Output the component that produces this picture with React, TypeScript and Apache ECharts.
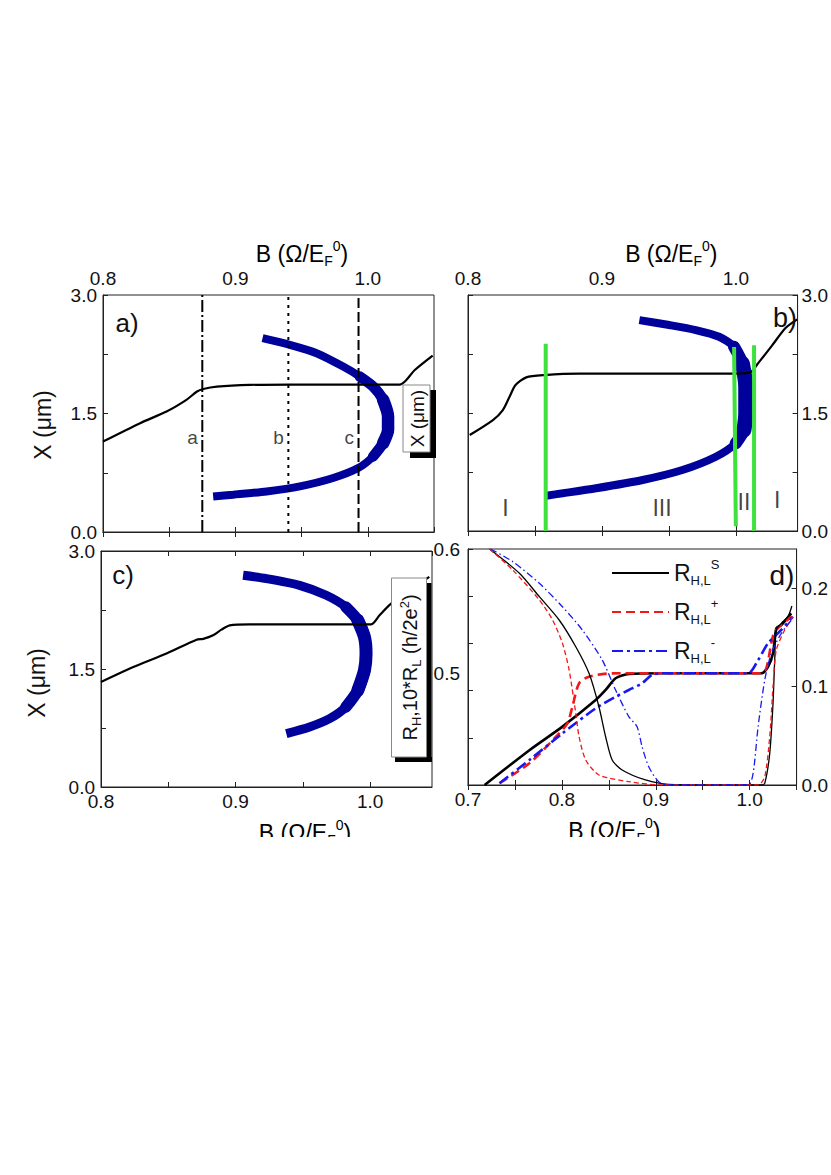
import React, { useEffect, useRef } from 'react';
import * as echarts from 'echarts';

const FONT = '"Liberation Sans", Arial, Helvetica, sans-serif';

// ---------- Panel a) ----------
const aEdgeB = [0.8, 0.828, 0.848, 0.863, 0.871, 0.8757, 0.886, 0.911, 0.941, 1.024, 1.028, 1.0355, 1.049];
const aEdgeX = [1.145, 1.378, 1.525, 1.673, 1.778, 1.81, 1.84, 1.862, 1.866, 1.866, 1.905, 2.05, 2.233];
const aBandB = [0.9205, 0.9411, 0.9613, 0.9814, 0.994, 1.004, 1.0116, 1.0153, 1.0153, 1.0116, 1.004, 0.9927, 0.9738, 0.9487, 0.9235, 0.8983, 0.8832];
const aBandX = [2.453, 2.368, 2.263, 2.094, 1.967, 1.841, 1.673, 1.462, 1.293, 1.125, 0.956, 0.809, 0.683, 0.577, 0.513, 0.472, 0.45];
const markerB = [0.875, 0.94, 0.993];
const markerNames = ['a', 'b', 'c'];
const markerLabelX = [1.2, 1.2, 1.2];

// ---------- Panel b) ----------
const bEdgeB = [0.8013, 0.8186, 0.826, 0.831, 0.8355, 0.8435, 0.857, 0.883, 0.9204, 0.9998, 1.011, 1.016, 1.027, 1.037, 1.0457];
const bEdgeX = [1.22, 1.41, 1.537, 1.706, 1.855, 1.953, 1.982, 2.0, 2.0, 2.0, 2.02, 2.12, 2.36, 2.58, 2.69];
const bBandB = [0.9279, 0.9502, 0.97, 0.9874, 0.9986, 1.0048, 1.0073, 1.0073, 1.006, 0.9998, 0.985, 0.96, 0.9303, 0.8956, 0.8707, 0.8584];
const bBandX = [2.681, 2.618, 2.554, 2.469, 2.342, 2.131, 1.834, 1.496, 1.283, 1.114, 0.944, 0.775, 0.648, 0.543, 0.479, 0.449];
const greenTopB = [0.858, 0.9986, 1.0135];
const greenBottomB = [0.858, 0.9999, 1.0135];
const greenTopX = [2.38, 2.34, 2.36];
const greenBottomX = [0.0, 0.06, 0.0];
const regionNames = ['I', 'III', 'II', 'I'];
const regionB = [0.828, 0.9448, 1.006, 1.0308];
const regionX = [0.29, 0.29, 0.37, 0.39];

// ---------- Panel c) ----------
const cEdgeB = [0.8, 0.824, 0.8487, 0.871, 0.876, 0.8833, 0.8895, 0.8957, 0.9105, 1.0008, 1.007, 1.0156, 1.044];
const cEdgeX = [1.335, 1.525, 1.696, 1.873, 1.883, 1.928, 2.0, 2.055, 2.068, 2.068, 2.183, 2.331, 2.67];
const cBandB = [0.9056, 0.923, 0.9476, 0.9674, 0.982, 0.9909, 0.9958, 0.997, 0.9958, 0.9909, 0.982, 0.9699, 0.955, 0.9377];
const cBandX = [2.691, 2.649, 2.564, 2.437, 2.288, 2.119, 1.907, 1.696, 1.483, 1.229, 1.017, 0.869, 0.763, 0.678];

// ---------- Panel d) ----------
// Hall resistance (left axis)
const dHsB = [0.7177, 0.7654, 0.8006, 0.836, 0.8466, 0.8572, 0.8713, 0.9066, 1.0125, 1.0196, 1.0249, 1.0284, 1.0337, 1.0443];
const dHsV = [0.41, 0.438, 0.457, 0.4784, 0.4865, 0.4959, 0.4994, 0.5, 0.5, 0.5052, 0.516, 0.5362, 0.5388, 0.5482];
const dHpB = [0.7336, 0.7654, 0.7971, 0.806, 0.8112, 0.8183, 0.8289, 0.8536, 1.0125, 1.0178, 1.0231, 1.0267, 1.0443];
const dHpV = [0.4114, 0.4275, 0.4516, 0.4597, 0.473, 0.4919, 0.4972, 0.4999, 0.5, 0.504, 0.5241, 0.5334, 0.5455];
const dHmB = [0.7336, 0.7654, 0.8006, 0.836, 0.8572, 0.8713, 0.8854, 0.896, 0.9066, 0.9984, 1.009, 1.0196, 1.0337, 1.046];
const dHmV = [0.4114, 0.4301, 0.4516, 0.4717, 0.4811, 0.4865, 0.4919, 0.4986, 0.5, 0.5, 0.5106, 0.5241, 0.5348, 0.5455];
// Longitudinal resistance x10 (right axis)
const dLsB = [0.723, 0.7548, 0.776, 0.7971, 0.8148, 0.8289, 0.8395, 0.8466, 0.8536, 0.8642, 0.889, 0.9137, 1.0125, 1.0161, 1.0214, 1.0249, 1.0267, 1.0284, 1.0337, 1.0408, 1.045];
const dLsV = [0.24, 0.2153, 0.1915, 0.1678, 0.1406, 0.1136, 0.0796, 0.0491, 0.0254, 0.0153, 0.0051, 0.0007, 0, 0.0017, 0.0322, 0.083, 0.1271, 0.1576, 0.1644, 0.1712, 0.182];
const dLpB = [0.723, 0.7477, 0.776, 0.7901, 0.8006, 0.8077, 0.8148, 0.8183, 0.8254, 0.8395, 0.8713, 0.9066, 1.009, 1.0161, 1.0214, 1.0249, 1.0284, 1.0373, 1.046];
const dLpV = [0.24, 0.2186, 0.1881, 0.1678, 0.1441, 0.117, 0.0729, 0.0491, 0.0254, 0.0102, 0.0034, 0, 0, 0.0085, 0.0491, 0.1, 0.1373, 0.1576, 0.1712];
const dLmB = [0.7241, 0.7477, 0.776, 0.8006, 0.8218, 0.843, 0.8572, 0.8713, 0.8801, 0.8854, 0.8925, 0.9031, 0.9137, 0.9984, 1.0037, 1.009, 1.0161, 1.0231, 1.0337, 1.046];
const dLmV = [0.24, 0.2271, 0.2051, 0.1813, 0.1576, 0.1271, 0.0966, 0.0695, 0.0593, 0.039, 0.0186, 0.0034, 0, 0, 0.0119, 0.0593, 0.1068, 0.1339, 0.1542, 0.1695];

// ---------- tick labels ----------
const bTickLabels = [0.8, 0.9, 1.0];
const dBTickLabels = [0.7, 0.8, 0.9, 1.0];
const xPosTickLabels = [0, 1.5, 3.0];
const dLeftTickLabels = [0.5, 0.6];
const dRightTickLabels = [0, 0.1, 0.2];

const legendNames = ['RS', 'RP', 'RM'];
const legendTexts = ['R{sub|H,L}{sup|S}', 'R{sub|H,L}{sup|+}', 'R{sub|H,L}{sup|-}'];

const zip = (xs: number[], ys: number[]) => xs.map((x, i) => [x, ys[i]]);
const inList = (list: number[]) => (v: number) =>
  list.some((t) => Math.abs(t - v) < 1e-6) ? v.toFixed(1) : '';

const BLUE_BAND = '#00009a';
const GREEN = '#3de23d';
const RED = '#f01818';
const BLUE = '#1818f0';
const TICK_FS = 19;
const NAME_FS = 23;

const richName = {
  sub: { fontSize: 14, fontFamily: FONT, color: '#000', padding: [15, 0, 0, 0] },
  sup: { fontSize: 14, fontFamily: FONT, color: '#000', padding: [0, 0, 15, 0] },
};

function line(
  name: string | undefined,
  data: number[][],
  xi: number,
  yi: number,
  color: string,
  width: number,
  type: any = 'solid',
  smooth: number | boolean = 0.25,
  cap: string = 'butt'
) {
  return {
    type: 'line',
    name,
    data,
    xAxisIndex: xi,
    yAxisIndex: yi,
    symbol: 'none',
    smooth,
    silent: true,
    lineStyle: { color, width, type, cap },
    itemStyle: { color },
    z: 3,
  };
}

function xAx(grid: number, pos: string, min: number, max: number, labels: number[] | null, name?: string, nameGap = 22, pad: number[] = [0, 0, 0, 0], margin = 6) {
  return {
    type: 'value',
    gridIndex: grid,
    position: pos,
    min,
    max,
    interval: 0.05,
    axisLine: { show: true, lineStyle: { color: '#222', width: 1 } },
    axisTick: { show: true, inside: true, length: 5, lineStyle: { color: '#222' } },
    splitLine: { show: false },
    axisLabel: labels
      ? { show: true, formatter: inList(labels), fontSize: TICK_FS, fontFamily: FONT, color: '#111', margin, showMaxLabel: false }
      : { show: false },
    name: name || '',
    nameLocation: 'middle',
    nameGap,
    nameTextStyle: { fontSize: NAME_FS, fontFamily: FONT, color: '#000', padding: pad, rich: richName },
  };
}

function yAx(grid: number, pos: string, min: number, max: number, interval: number | undefined, labels: number[] | null, opts: any = {}) {
  return {
    type: 'value',
    gridIndex: grid,
    position: pos,
    min,
    max,
    interval,
    axisLine: { show: true, lineStyle: { color: '#222', width: 1 } },
    axisTick: { show: true, inside: true, length: 5, lineStyle: { color: '#222' } },
    splitLine: { show: false },
    axisLabel: labels
      ? { show: true, formatter: inList(labels), fontSize: TICK_FS, fontFamily: FONT, color: '#111', margin: 6 }
      : { show: false },
    ...opts,
  };
}

function App() {
  const ref = useRef<HTMLDivElement>(null);
  useEffect(() => {
    if (!ref.current) return;
    const chart = echarts.init(ref.current, undefined, { renderer: 'svg' });

    const grids = [
      { left: 103, top: 295, width: 331, height: 237 },
      { left: 468, top: 295, width: 330, height: 236 },
      { left: 101, top: 551, width: 331, height: 236 },
      { left: 468, top: 549, width: 330, height: 236 },
    ].map((g) => ({ ...g, show: true, borderColor: '#222', borderWidth: 1, backgroundColor: 'transparent' }));

    const xAxis = [
      xAx(0, 'top', 0.8, 1.05, bTickLabels, 'B (Ω/E{sub|F}{sup|0})', 20, [0, 0, 0, 67], 7), // 0
      xAx(0, 'bottom', 0.8, 1.05, null), // 1
      xAx(1, 'top', 0.8, 1.046, bTickLabels, 'B (Ω/E{sub|F}{sup|0})', 20, [0, 0, 0, 77], 7), // 2
      xAx(1, 'bottom', 0.8, 1.046, null), // 3
      xAx(2, 'bottom', 0.8, 1.046, bTickLabels, 'B (Ω/E{sub|F}{sup|0})', 31, [0, 0, 0, 77], 5), // 4
      xAx(2, 'top', 0.8, 1.046, null), // 5
      xAx(3, 'bottom', 0.7, 1.05, dBTickLabels, 'B (Ω/E{sub|F}{sup|0})', 31, [0, 36, 0, 0], 5), // 6
      xAx(3, 'top', 0.7, 1.05, null), // 7
    ];

    const yAxis = [
      yAx(0, 'left', 0, 3, 0.75, xPosTickLabels), // 0 a
      yAx(1, 'right', 0, 3, 0.75, xPosTickLabels, { axisLabel: { show: true, formatter: inList(xPosTickLabels), fontSize: TICK_FS, fontFamily: FONT, color: '#111', margin: 4 } }), // 1 b right
      yAx(1, 'left', 0, 3, 0.75, null), // 2 b left ticks
      yAx(2, 'left', 0, 3, 0.75, xPosTickLabels), // 3 c
      yAx(3, 'left', 0.41, 0.6, 0.01, dLeftTickLabels, { axisTick: { show: false }, axisLabel: { show: true, formatter: inList(dLeftTickLabels), fontSize: TICK_FS, fontFamily: FONT, color: '#111', margin: 8 } }), // 4 d left labels
      yAx(3, 'left', 0, 5, 1, null), // 5 d left ticks
      yAx(3, 'right', 0, 0.24, 0.1, dRightTickLabels, { axisLabel: { show: true, formatter: inList(dRightTickLabels), fontSize: TICK_FS, fontFamily: FONT, color: '#111', margin: 5, showMaxLabel: false } }), // 6 d right
    ];

    const series: any[] = [];

    // Panel a
    series.push(line(undefined, zip(aBandB, aBandX), 0, 0, BLUE_BAND, 8));
    series.push(line(undefined, zip(aBandB.slice(4, 11), aBandX.slice(4, 11)), 0, 0, BLUE_BAND, 10.5, 'solid', 0.25, 'round'));
    series.push(line(undefined, zip(aBandB.slice(6, 10), aBandX.slice(6, 10)), 0, 0, BLUE_BAND, 12.5, 'solid', 0.25, 'round'));
    series.push(line(undefined, zip(aEdgeB, aEdgeX), 0, 0, '#000', 2.2));
    const markerTypes: any[] = [[12, 3, 2, 3], [3, 5], [10, 4]];
    markerB.forEach((b, i) => {
      series.push(line(undefined, [[b, 0], [b, 3]], 0, 0, '#000', 2, markerTypes[i], false));
    });
    series.push({
      type: 'scatter',
      xAxisIndex: 0,
      yAxisIndex: 0,
      data: zip(markerB, markerLabelX),
      symbolSize: 1,
      itemStyle: { color: 'rgba(0,0,0,0)' },
      silent: true,
      label: { show: true, position: 'left', distance: 4, formatter: (p: any) => markerNames[p.dataIndex], fontSize: 19, fontFamily: FONT, color: '#111' },
    });

    // Panel b
    series.push(line(undefined, zip(bBandB, bBandX), 2, 1, BLUE_BAND, 8));
    series.push(line(undefined, zip(bBandB.slice(4, 10), bBandX.slice(4, 10)), 2, 1, BLUE_BAND, 12, 'solid', 0.25, 'round'));
    series.push(line(undefined, zip(bBandB.slice(5, 9), bBandX.slice(5, 9)), 2, 1, BLUE_BAND, 15, 'solid', 0.25, 'round'));
    series.push(line(undefined, zip(bEdgeB, bEdgeX), 2, 1, '#000', 2.2));
    greenTopB.forEach((b, i) => {
      series.push({ ...line(undefined, [[b, greenTopX[i]], [greenBottomB[i], greenBottomX[i]]], 2, 1, GREEN, 4, 'solid', false), z: 4 });
    });
    series.push({
      type: 'scatter',
      xAxisIndex: 2,
      yAxisIndex: 1,
      data: zip(regionB, regionX),
      symbolSize: 1,
      itemStyle: { color: 'rgba(0,0,0,0)' },
      silent: true,
      label: { show: true, position: 'inside', formatter: (p: any) => regionNames[p.dataIndex], fontSize: 23, fontFamily: FONT, color: '#111' },
    });

    // Panel c
    series.push(line(undefined, zip(cBandB, cBandX), 4, 3, BLUE_BAND, 9));
    series.push(line(undefined, zip(cBandB.slice(4, 11), cBandX.slice(4, 11)), 4, 3, BLUE_BAND, 11.5, 'solid', 0.25, 'round'));
    series.push(line(undefined, zip(cBandB.slice(5, 10), cBandX.slice(5, 10)), 4, 3, BLUE_BAND, 13, 'solid', 0.25, 'round'));
    series.push(line(undefined, zip(cEdgeB, cEdgeX), 4, 3, '#000', 2.2));

    // Panel d
    series.push(line('RS', zip(dHsB, dHsV), 6, 4, '#000', 2.6, 'solid'));
    series.push(line('RP', zip(dHpB, dHpV), 6, 4, RED, 2.6, [9, 5]));
    series.push(line('RM', zip(dHmB, dHmV), 6, 4, BLUE, 2.6, [11, 4, 3, 4]));
    series.push(line('RS_L', zip(dLsB, dLsV), 6, 6, '#000', 1.3, 'solid'));
    series.push(line('RP_L', zip(dLpB, dLpV), 6, 6, RED, 1.3, [5, 3]));
    series.push(line('RM_L', zip(dLmB, dLmV), 6, 6, BLUE, 1.3, [7, 3, 1.5, 3]));

    const txt = (text: string, x: number, y: number, size: number, rotation = 0) => ({
      type: 'text',
      x,
      y,
      z: 50,
      rotation,
      style: { text, fontSize: size, fontFamily: FONT, fill: '#111', align: 'center', verticalAlign: 'middle' },
    });

    const graphic: any[] = [
      txt('a)', 127, 323, 26),
      txt('b)', 785, 318, 27),
      txt('c)', 123, 575, 26),
      txt('d)', 782, 575, 28),
      // y-axis titles of a) and c)
      txt('X (μm)', 43, 425, NAME_FS, Math.PI / 2),
      txt('X (μm)', 37, 683, NAME_FS, Math.PI / 2),
      // legend-box artefact in a)
      { type: 'rect', z: 40, shape: { x: 410, y: 452, width: 26, height: 6 }, style: { fill: '#000' } },
      { type: 'rect', z: 40, shape: { x: 430, y: 390, width: 6, height: 68 }, style: { fill: '#000' } },
      { type: 'rect', z: 41, shape: { x: 403, y: 385, width: 27, height: 67 }, style: { fill: '#fff', stroke: '#888', lineWidth: 1 } },
      txt('X (μm)', 417, 418.5, 19, Math.PI / 2),
      // legend-box artefact in c)
      { type: 'rect', z: 40, shape: { x: 395, y: 757, width: 37, height: 5 }, style: { fill: '#000' } },
      { type: 'rect', z: 40, shape: { x: 426.5, y: 583, width: 5, height: 179 }, style: { fill: '#000' } },
      { type: 'rect', z: 41, shape: { x: 391.5, y: 578, width: 35, height: 179 }, style: { fill: '#fff', stroke: '#888', lineWidth: 1 } },
      {
        type: 'text', z: 52, x: 410, y: 667.5, rotation: Math.PI / 2,
        style: {
          text: 'R{sub|H},10*R{sub|L} (h/2e{sup|2})',
          fontSize: 20, fontFamily: FONT, fill: '#111', align: 'center', verticalAlign: 'middle',
          rich: {
            sub: { fontSize: 13, fontFamily: FONT, fill: '#111', padding: [12, 0, 0, 0] },
            sup: { fontSize: 13, fontFamily: FONT, fill: '#111', padding: [0, 0, 12, 0] },
          },
        },
      },
      // the page is cropped just below the bottom axis titles
      { type: 'rect', z: 100, shape: { x: 0, y: 837, width: 831, height: 338 }, style: { fill: '#fff' } },
    ];

    chart.setOption({
      animation: false,
      backgroundColor: '#fff',
      grid: grids,
      xAxis,
      yAxis,
      series,
      legend: {
        data: legendNames,
        orient: 'vertical',
        left: 606,
        top: 553,
        itemWidth: 57,
        itemHeight: 14,
        itemGap: 10,
        selectedMode: false,
        itemStyle: { color: 'rgba(0,0,0,0)', borderWidth: 0 },
        formatter: (n: string) => legendTexts[legendNames.indexOf(n)],
        textStyle: {
          fontSize: 23,
          fontFamily: FONT,
          color: '#111',
          rich: {
            sub: { fontSize: 13, fontFamily: FONT, color: '#111', padding: [15, 0, 0, 0] },
            sup: { fontSize: 13, fontFamily: FONT, color: '#111', padding: [0, 0, 17, 0] },
          },
        },
      },
      graphic,
    });
    return () => chart.dispose();
  }, []);
  return <div ref={ref} style={{ position: 'absolute', left: 0, top: 0, width: 831, height: 1175 }} />;
}

export default App;
